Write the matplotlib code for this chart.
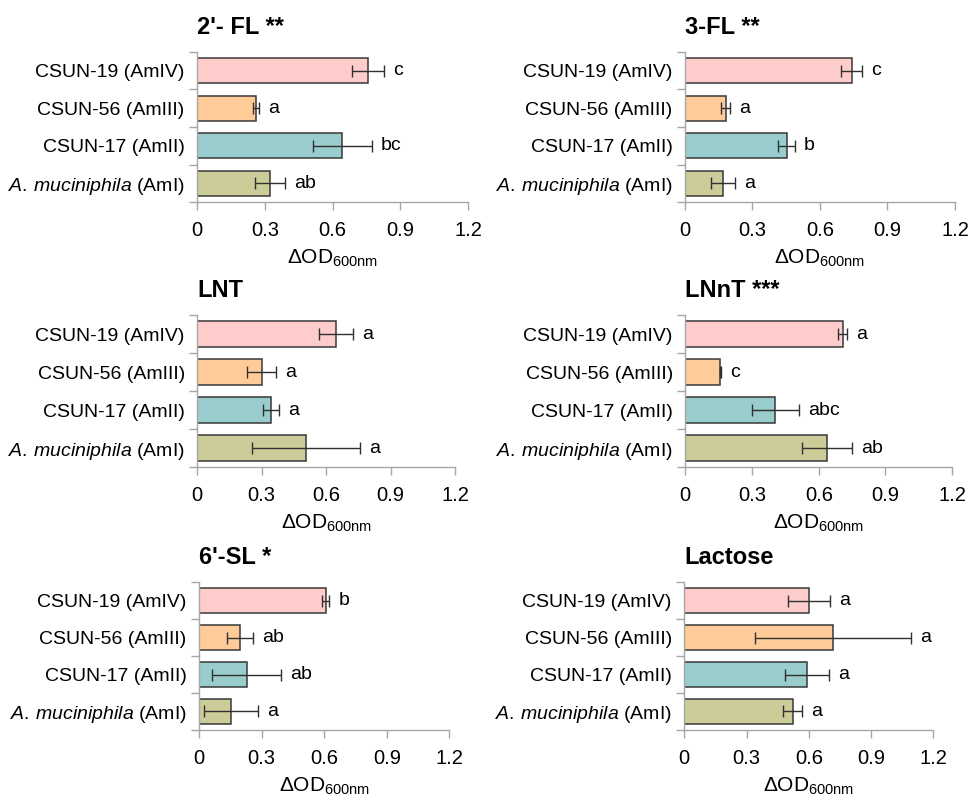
import matplotlib.pyplot as plt
import numpy as np

plt.rcParams['font.family'] = ['Liberation Sans', 'DejaVu Sans']
plt.rcParams['mathtext.fontset'] = 'custom'
plt.rcParams['mathtext.rm'] = 'Liberation Sans'
plt.rcParams['mathtext.it'] = 'Liberation Sans:italic'
plt.rcParams['mathtext.bf'] = 'Liberation Sans:bold'

# strains, listed top to bottom as in the figure
strains = ["CSUN-19 (AmIV)", "CSUN-56 (AmIII)", "CSUN-17 (AmII)",
           r"$\mathit{A.\,muciniphila}$ (AmI)"]
colors = ["#FFCCCC", "#FFCC99", "#99CCCC", "#CCCC99"]

titles = ["2'- FL **", "3-FL **", "LNT", "LNnT ***", "6'-SL *", "Lactose"]

fl2 = [0.757, 0.261, 0.643, 0.323]
fl2_err = [0.070, 0.015, 0.130, 0.066]
fl2_sig = ["c", "a", "bc", "ab"]

fl3 = [0.742, 0.181, 0.452, 0.168]
fl3_err = [0.047, 0.020, 0.037, 0.053]
fl3_sig = ["c", "a", "b", "a"]

lnt = [0.646, 0.300, 0.343, 0.506]
lnt_err = [0.078, 0.068, 0.038, 0.250]
lnt_sig = ["a", "a", "a", "a"]

lnnt = [0.707, 0.158, 0.405, 0.638]
lnnt_err = [0.022, 0.004, 0.107, 0.113]
lnnt_sig = ["a", "c", "abc", "ab"]

sl6 = [0.607, 0.196, 0.229, 0.155]
sl6_err = [0.018, 0.062, 0.165, 0.130]
sl6_sig = ["b", "ab", "ab", "a"]

lactose = [0.601, 0.718, 0.590, 0.522]
lactose_err = [0.100, 0.375, 0.107, 0.045]
lactose_sig = ["a", "a", "a", "a"]

xticks = [0, 0.3, 0.6, 0.9, 1.2]
xticklabels = ["0", "0.3", "0.6", "0.9", "1.2"]

values = [fl2, fl3, lnt, lnnt, sl6, lactose]
errors = [fl2_err, fl3_err, lnt_err, lnnt_err, sl6_err, lactose_err]
sigs = [fl2_sig, fl3_sig, lnt_sig, lnnt_sig, sl6_sig, lactose_sig]

# axes boxes [left, bottom, width, height] in figure fractions
boxes = [[0.2033, 0.7459, 0.2797, 0.1887],
         [0.7069, 0.7459, 0.2786, 0.1887],
         [0.2036, 0.4126, 0.2660, 0.1910],
         [0.7072, 0.4126, 0.2755, 0.1910],
         [0.2054, 0.0818, 0.2583, 0.1860],
         [0.7062, 0.0818, 0.2570, 0.1860]]

grey = "#A6A6A6"
fig = plt.figure(figsize=(9.69, 7.95), dpi=100)

for i in range(6):
    ax = fig.add_axes(boxes[i])
    ypos = np.arange(4)[::-1]
    ax.barh(ypos, values[i], height=0.67, color=colors,
            edgecolor="#383838", linewidth=1.1)
    ax.errorbar(values[i], ypos, xerr=errors[i], fmt="none",
                ecolor="#303030", elinewidth=1, capsize=4.5, capthick=1)
    for v, e, y, s in zip(values[i], errors[i], ypos, sigs[i]):
        ax.annotate(s, (v + e, y), xytext=(6.5, 0), textcoords="offset points",
                    ha="left", va="center", fontsize=14)

    ax.set_xlim(0, 1.2)
    ax.set_ylim(-0.5, 3.5)
    ax.set_xticks(xticks)
    ax.set_xticklabels(xticklabels, fontsize=14.5)
    ax.set_yticks(ypos)
    ax.set_yticklabels(strains, fontsize=14)
    ax.set_yticks(np.arange(-0.5, 4, 1), minor=True)
    ax.tick_params(axis="y", which="major", length=0, pad=9)
    ax.tick_params(axis="y", which="minor", length=6, color=grey, width=1)
    ax.tick_params(axis="x", length=6, color=grey, width=1, pad=8)

    for side in ["top", "right"]:
        ax.spines[side].set_visible(False)
    for side in ["left", "bottom"]:
        ax.spines[side].set_color(grey)
        ax.spines[side].set_linewidth(1)

    ax.set_xlabel(r"ΔOD$_{\mathrm{600nm}}$", fontsize=15, labelpad=5)
    ax.set_title(titles[i], loc="left", fontsize=17, fontweight="bold", pad=13)

fig.savefig("out.png", dpi=100)
